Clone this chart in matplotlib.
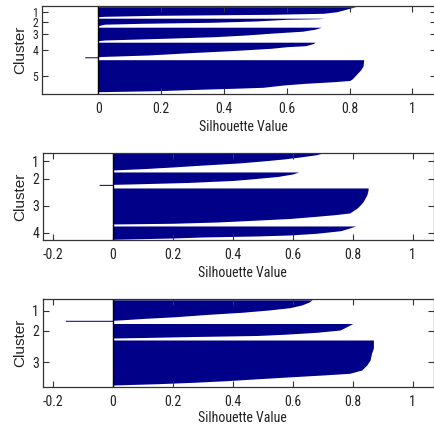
import numpy as np
import matplotlib.pyplot as plt
from matplotlib import font_manager
from matplotlib.font_manager import FontProperties

# silhouette values of each cluster, highest first.
# rank = position of the sample inside its cluster (top to bottom)
k5_sizes = [10, 7.5, 13.5, 16, 32]
k5_rank = [
    [0, 1.6, 3.3, 5, 6.6, 7.6, 8.6, 9.6, 10],
    [0, 0.5, 1.1, 2.8, 4.1, 5.1, 6, 7.5],
    [0, 2, 4, 5, 6, 7.8, 9.5, 11, 12.8, 13.5],
    [0, 1.3, 3.5, 4.5, 6.1, 8.5, 10.5, 12.8, 14.3, 14.6, 14.6, 15.6],
    [0, 6.3, 10.3, 13.3, 17, 19.3, 20.8, 22, 23.6, 25.3, 27.6, 28.6, 29.8, 31, 32],
]
k5_sil = [
    [0.82, 0.80, 0.78, 0.76, 0.716, 0.55, 0.19, 0.02, 0.0],
    [0.72, 0.70, 0.60, 0.50, 0.36, 0.14, 0.02, 0.0],
    [0.71, 0.69, 0.65, 0.60, 0.55, 0.47, 0.37, 0.22, 0.02, 0.0],
    [0.69, 0.685, 0.66, 0.60, 0.55, 0.42, 0.29, 0.16, 0.01, 0.0, -0.043, -0.043],
    [0.845, 0.843, 0.835, 0.826, 0.815, 0.808, 0.80, 0.75, 0.66, 0.59, 0.525, 0.43, 0.30, 0.19, 0.0],
]

k4_sizes = [17, 14, 36, 13.5]
k4_rank = [
    [0, 1.7, 4, 6, 8, 10, 12.3, 14, 15.7, 17],
    [0, 2, 4.5, 7, 8.5, 10.5, 12, 12.4, 12.4, 13.4],
    [0, 4, 7, 13.5, 17, 20, 23, 25, 26.7, 28.3, 30.5, 32.3, 34, 35.3, 36],
    [0, 2, 4.7, 7.3, 9, 10, 11, 12, 13.3],
]
k4_sil = [
    [0.70, 0.68, 0.625, 0.57, 0.50, 0.42, 0.29, 0.20, 0.10, 0.0],
    [0.62, 0.60, 0.55, 0.46, 0.40, 0.25, 0.06, 0.0, -0.045, -0.045],
    [0.852, 0.85, 0.847, 0.835, 0.825, 0.815, 0.80, 0.79, 0.74, 0.68, 0.59, 0.47, 0.35, 0.2, 0.0],
    [0.81, 0.79, 0.76, 0.68, 0.59, 0.48, 0.30, 0.20, 0.0],
]

k3_sizes = [21.7, 14.5, 45]
k3_rank = [
    [0, 2.2, 5.2, 7.9, 10.2, 12.5, 14.5, 16.9, 18.5, 20.2, 20.5, 20.5, 21.5],
    [0, 3.2, 6.5, 8.8, 10.8, 12, 13, 14, 14.5],
    [0, 8, 13, 20, 25, 30, 33.3, 35, 36.7, 39, 40.7, 42.3, 43.7, 45],
]
k3_sil = [
    [0.665, 0.655, 0.63, 0.59, 0.52, 0.43, 0.32, 0.21, 0.11, 0.02, 0.0, -0.157, -0.157],
    [0.80, 0.78, 0.758, 0.68, 0.57, 0.48, 0.27, 0.10, 0.0],
    [0.869, 0.869, 0.863, 0.858, 0.847, 0.83, 0.79, 0.70, 0.60, 0.47, 0.38, 0.27, 0.15, 0.0],
]

ticks_k5 = [0, 0.2, 0.4, 0.6, 0.8, 1]
labels_k5 = ["0", "0.2", "0.4", "0.6", "0.8", "1"]
ticks_k4 = [-0.2, 0, 0.2, 0.4, 0.6, 0.8, 1]
labels_k4 = ["-0.2", "0", "0.2", "0.4", "0.6", "0.8", "1"]

bar_color = "#000088"
text_color = "#222222"


# the reference text is a narrow Helvetica; look for a condensed face
def pick_narrow():
    for fam in ["Liberation Sans Narrow", "Arial Narrow", "Roboto Condensed",
                "Open Sans Condensed", "DejaVu Sans Condensed"]:
        try:
            font_manager.findfont(FontProperties(family=fam), fallback_to_default=False)
            return FontProperties(family=fam), 1.0
        except ValueError:
            pass
    for fam in ["DejaVu Sans", "Roboto", "Open Sans"]:
        fp = FontProperties(family=fam, stretch="condensed")
        try:
            path = font_manager.findfont(fp, fallback_to_default=False)
            if "ondensed" in path:
                return fp, 0.95
        except ValueError:
            pass
    return FontProperties(family="Liberation Sans"), 0.86


narrow_fp, shrink = pick_narrow()


def tfont(size):
    fp = narrow_fp.copy()
    fp.set_size(size * shrink)
    return fp


fig = plt.figure(figsize=(4.35, 4.28), dpi=100)

# (left, bottom, width, height), xlim, ylim bottom, top pad, gap, label y, spine y
panels = [
    ([0.0972, 0.7804, 0.905, 0.2056], (-0.178, 1.075), 88.0, 0.7, 1.5,
     k5_sizes, k5_rank, k5_sil, ticks_k5, labels_k5, 126.7, 94.0, 8.5),
    ([0.0995, 0.4393, 0.8989, 0.2040], (-0.231, 1.072), 87.3, 0.3, 2.0,
     k4_sizes, k4_rank, k4_sil, ticks_k4, labels_k4, 273.3, 240.0, 10),
    ([0.0995, 0.0965, 0.8989, 0.2042], (-0.231, 1.072), 87.4, 0.5, 2.0,
     k3_sizes, k3_rank, k3_sil, ticks_k4, labels_k4, 418.3, 386.7, 10),
]

for (rect, xlim, ybot, pad, gap, sizes, ranks, sils, xt, xtl,
     lab_y, spine_y, ysize) in panels:
    ax = fig.add_axes(rect)
    start = pad
    centers = []
    for size, r, s in zip(sizes, ranks, sils):
        y = start + np.array(r)
        ax.fill_betweenx(y, 0, np.array(s), color=bar_color, linewidth=0)
        centers.append(start + size / 2)
        start += size + gap
    ax.axvline(0, color="black", lw=1.0)

    ax.set_xlim(*xlim)
    ax.set_ylim(ybot, 0)
    ax.set_xticks(xt)
    ax.set_xticklabels(xtl, fontproperties=tfont(10), color=text_color)
    ax.set_yticks(centers)
    ax.set_yticklabels([str(i + 1) for i in range(len(sizes))],
                       fontproperties=tfont(ysize), color=text_color)
    ax.tick_params(direction="in", top=True, right=True, length=4, width=0.8,
                   color="#333333")
    ax.tick_params(axis="x", pad=6)
    ax.tick_params(axis="y", pad=3)
    for sp in ax.spines.values():
        sp.set_color("#333333")
        sp.set_linewidth(0.9)

    ax.set_xlabel("Silhouette Value", fontproperties=tfont(10), color=text_color)
    ax.xaxis.label.set_va("center")
    h_px = rect[3] * 428
    ax.xaxis.set_label_coords(0.51, -(lab_y - spine_y) / h_px)
    ax.set_ylabel("Cluster", fontfamily="Liberation Sans", fontsize=11,
                  color=text_color)
    ax.yaxis.label.set_va("center")
    ax.yaxis.set_label_coords(-(rect[0] * 435 - 20) / (rect[2] * 435), 0.5)

fig.savefig("out.png", dpi=100)
